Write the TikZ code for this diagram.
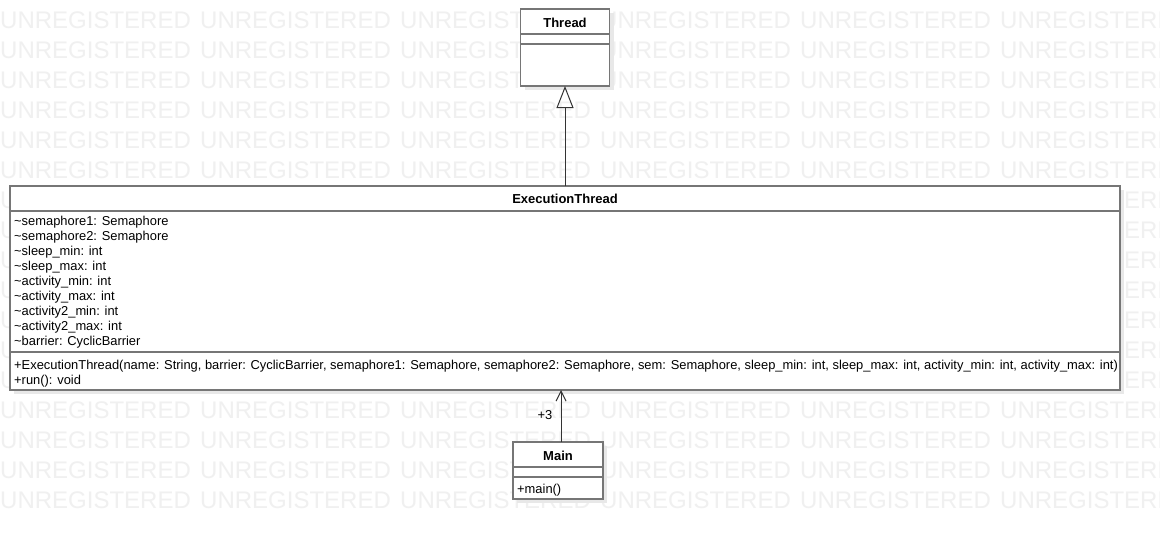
\documentclass[tikz,border=0pt]{standalone}
\usepackage{fontspec}
\setmainfont{Liberation Sans}
\usetikzlibrary{arrows.meta,positioning,shadows}

\definecolor{umlline}{RGB}{118,118,118}
\definecolor{umlshadow}{RGB}{232,232,232}
\definecolor{wmgray}{RGB}{240,240,240}

\tikzset{
  classbox/.style={draw=umlline, line width=1.6pt, fill=white, inner sep=0pt, outer sep=0pt,
    drop shadow={shadow xshift=4pt, shadow yshift=-4pt, fill=umlshadow, opacity=1}},
  compline/.style={draw=umlline, line width=1.6pt},
  classname/.style={font=\fontsize{13}{15}\selectfont\bfseries, inner sep=0pt},
  member/.style={font=\fontsize{12.9}{15}\selectfont, inner sep=0pt, anchor=west},
  wmark/.style={font=\fontsize{24}{28}\selectfont, text=wmgray, inner sep=0pt, anchor=west},
  connector/.style={draw=black!80, line width=1pt},
}

\begin{document}
\begin{tikzpicture}[x=1pt,y=-1pt]
    \useasboundingbox (0,0) rectangle (1160,539);
    \fill[white] (0,0) rectangle (1160,539);

    % Background watermark
    \foreach \row in {0,...,16}
      \foreach \col in {0,...,5}
        \node[wmark] (wm-\row-\col) at (\col*200, 20+\row*30) {UNREGISTERED};

    % Class boxes
    \node[classbox, minimum width=89pt, minimum height=77pt] (thread) at (565,47.5) {};
    \node[classbox, minimum width=1110pt, minimum height=204pt] (exec) at (565,288) {};
    \node[classbox, minimum width=90pt, minimum height=57pt] (main) at (558,470.5) {};

    % Compartments
    \draw[compline] (thread.west |- 0,34) -- (thread.east |- 0,34);
    \draw[compline] (thread.west |- 0,44) -- (thread.east |- 0,44);
    \draw[compline] (exec.west |- 0,211) -- (exec.east |- 0,211);
    \draw[compline] (exec.west |- 0,352) -- (exec.east |- 0,352);
    \draw[compline] (main.west |- 0,467) -- (main.east |- 0,467);
    \draw[compline] (main.west |- 0,477) -- (main.east |- 0,477);

    % Class names
    \node[classname] (thread-name) at (565,22.5) {Thread};
    \node[classname] (exec-name) at (565,199) {ExecutionThread};
    \node[classname] (main-name) at (558,455.5) {Main};

    % Attributes
    \foreach \attr [count=\i] in {semaphore1: Semaphore, semaphore2: Semaphore,
        sleep\_min: int, sleep\_max: int, activity\_min: int, activity\_max: int,
        activity2\_min: int, activity2\_max: int, barrier: CyclicBarrier}
      \node[member] (attr-\i) at (14, 207.5+\i*15) {\textasciitilde\attr};

    % Operations
    \node[member] (op-1) at (14,366) {+ExecutionThread(name: String, barrier: CyclicBarrier, semaphore1: Semaphore, semaphore2: Semaphore, sem: Semaphore, sleep\_min: int, sleep\_max: int, activity\_min: int, activity\_max: int)};
    \node[member] (op-2) at (14,381) {+run(): void};
    \node[member] (op-main) at (517,490) {+main()};

    % Generalization
    \draw[connector, -{Triangle[open, length=22pt, width=17pt]}] (exec.north) -- (thread.south);

    % Association
    \draw[connector, -{Straight Barb[length=10pt, width=10pt]}] (main.north -| 561,0) -- (exec.south -| 561,0);
    \node[member, anchor=center] (mult) at (545,415) {+3};

\end{tikzpicture}
\end{document}
